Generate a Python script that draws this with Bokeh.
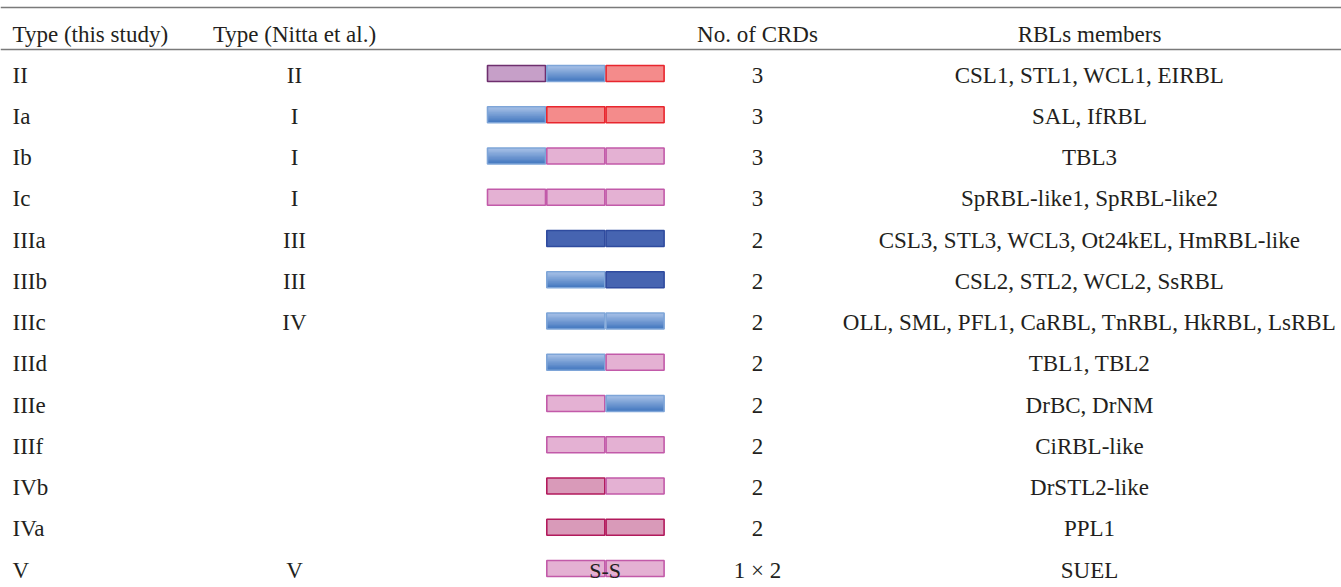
from bokeh.plotting import figure
from bokeh.models import Range1d, ColumnDataSource
from bokeh.core.properties import value
from bokeh.embed import file_html
from bokeh.resources import INLINE

# ---------------- data ----------------
headers = ["Type (this study)", "Type (Nitta et al.)", "No. of CRDs", "RBLs members"]
type_this = ["II", "Ia", "Ib", "Ic", "IIIa", "IIIb", "IIIc", "IIId", "IIIe", "IIIf", "IVb", "IVa", "V"]
type_nitta = ["II", "I", "I", "I", "III", "III", "IV", "", "", "", "", "", "V"]
domains = [["P", "B", "R"], ["B", "R", "R"], ["B", "L", "L"], ["L", "L", "L"],
           ["D", "D"], ["B", "D"], ["B", "B"], ["B", "L"], ["L", "B"], ["L", "L"],
           ["K", "L"], ["K", "K"], ["L", "L"]]
bridge = ["", "", "", "", "", "", "", "", "", "", "", "", "S-S"]
n_crds = ["3", "3", "3", "3", "2", "2", "2", "2", "2", "2", "2", "2", "1 \u00d7 2"]
members = ["CSL1, STL1, WCL1, EIRBL", "SAL, IfRBL", "TBL3", "SpRBL-like1, SpRBL-like2",
           "CSL3, STL3, WCL3, Ot24kEL, HmRBL-like", "CSL2, STL2, WCL2, SsRBL",
           "OLL, SML, PFL1, CaRBL, TnRBL, HkRBL, LsRBL", "TBL1, TBL2", "DrBC, DrNM",
           "CiRBL-like", "DrSTL2-like", "PPL1", "SUEL"]

# ---------------- styles ----------------
FONT = value("Liberation Serif")
FS = "23px"
TXT = "#231f20"
fills = {"P": "#c69fc8", "R": "#f48b8b", "L": "#e4b1d3", "D": "#4664b1", "K": "#d99ab9"}
lines = {"P": "#6e2f6e", "B": "#7ea5d8", "R": "#e8262e", "L": "#c25aa9", "D": "#2f4b9f", "K": "#b21a5c"}
grad_top = (0xa6, 0xc0, 0xe7)
grad_bot = (0x45, 0x79, 0xc0)

ROW_PX = 41.25
FIRST_PX = 73.0
W, H = 1341, 587
x_col1, x_col2, x_col3, x_col4 = 12, 294, 757, 1089
slot_left, slot_pitch, slot_w = 487, 59.3, 58
box_h = 16 / ROW_PX

p = figure(width=W, height=H, output_backend="svg", toolbar_location=None,
           x_range=Range1d(0, W),
           y_range=Range1d((H - FIRST_PX) / ROW_PX, (0 - FIRST_PX) / ROW_PX),
           min_border=0, outline_line_color=None)
p.axis.visible = False
p.grid.visible = False
p.background_fill_color = "white"
p.border_fill_color = "white"

# rules
rule_rows = [(7 - FIRST_PX) / ROW_PX, (49 - FIRST_PX) / ROW_PX]
for r in rule_rows:
    p.segment(x0=[0], x1=[W], y0=[r], y1=[r], line_color="#7a7a7a", line_width=1.6)

# header
hy = (34 - FIRST_PX) / ROW_PX
p.text(x=[x_col1], y=[hy], text=[headers[0]], text_font=FONT, text_font_size=FS,
       text_color=TXT, text_align="left", text_baseline="middle")
p.text(x=[x_col2, x_col3, x_col4], y=[hy] * 3, text=headers[1:], text_font=FONT,
       text_font_size=FS, text_color=TXT, text_align="center", text_baseline="middle")

rows = list(range(len(type_this)))
ty = [r + 0.04 for r in rows]
p.text(x=[x_col1] * len(rows), y=ty, text=type_this, text_font=FONT, text_font_size=FS,
       text_color=TXT, text_align="left", text_baseline="middle")
for xs, col in [(x_col2, type_nitta), (x_col3, n_crds), (x_col4, members)]:
    p.text(x=[xs] * len(rows), y=ty, text=col, text_font=FONT, text_font_size=FS,
           text_color=TXT, text_align="center", text_baseline="middle")

# domain boxes
flat = dict(left=[], right=[], top=[], bottom=[], fill=[], line=[])
grad = dict(left=[], right=[], top=[], bottom=[], fill=[])
NS = 12
for r, doms in enumerate(domains):
    start = 3 - len(doms)
    for i, d in enumerate(doms):
        k = start + i
        l = slot_left + k * slot_pitch
        rr = l + slot_w
        t = r - box_h / 2
        b = r + box_h / 2
        flat["left"].append(l); flat["right"].append(rr)
        flat["top"].append(t); flat["bottom"].append(b)
        flat["line"].append(lines[d])
        if d == "B":
            flat["fill"].append(None)
            for s in range(NS):
                f = s / (NS - 1)
                c = tuple(int(grad_top[j] + (grad_bot[j] - grad_top[j]) * f) for j in range(3))
                grad["left"].append(l); grad["right"].append(rr)
                grad["top"].append(t + s * box_h / NS)
                grad["bottom"].append(min(b, t + (s + 2) * box_h / NS))
                grad["fill"].append("#%02x%02x%02x" % c)
        else:
            flat["fill"].append(fills[d])

p.quad(left="left", right="right", top="top", bottom="bottom", fill_color="fill",
       line_color=None, source=ColumnDataSource(grad))
p.quad(left="left", right="right", top="top", bottom="bottom", fill_color="fill",
       line_color="line", line_width=1.6, source=ColumnDataSource(flat))

# S-S bridge label
bx, by, bt = [], [], []
for r, lab in enumerate(bridge):
    if lab:
        bx.append(slot_left + 2 * slot_pitch - 1)
        by.append(r + 0.06)
        bt.append(lab)
p.text(x=bx, y=by, text=bt, text_font=FONT, text_font_size="22px", text_color=TXT,
       text_align="center", text_baseline="middle")

open("out.html", "w").write(file_html(p, INLINE))
